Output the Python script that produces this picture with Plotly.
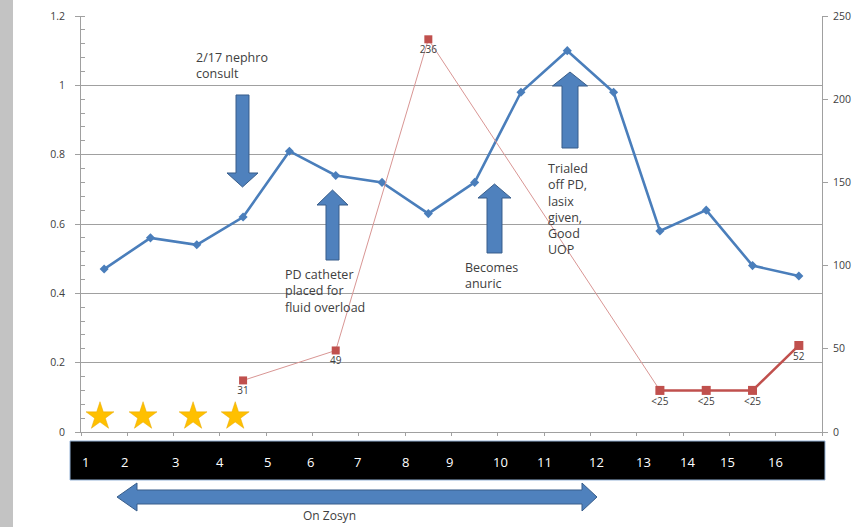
import plotly.graph_objects as go

# ---------------- data ----------------
days = list(range(1, 17))
creatinine = [0.47, 0.56, 0.54, 0.62, 0.81, 0.74, 0.72, 0.63, 0.72, 0.98, 1.10, 0.98, 0.58, 0.64, 0.48, 0.45]
vanc_days = [4, 6, 8, 13]
vanc_vals = [31, 49, 236, 25]
vanc_labels = ["31", "49", "236", ""]
vanc_days2 = [13, 14, 15, 16]
vanc_vals2 = [25, 25, 25, 52]
vanc_labels2 = ["<25", "<25", "<25", "52"]
star_days = [0.91, 1.84, 2.92, 3.83]
star_level = [0.045, 0.045, 0.045, 0.045]
day_labels = [str(d) for d in days]
day_label_pos = [0.59, 1.43, 2.55, 3.5, 4.52, 5.45, 6.48, 7.5, 8.45, 9.55, 10.5, 11.64, 12.64, 13.6, 14.47, 15.5]
left_ticks = [0, 0.2, 0.4, 0.6, 0.8, 1, 1.2]
left_ticktext = ["0", "0.2", "0.4", "0.6", "0.8", "1", "1.2"]
right_ticks = [0, 50, 100, 150, 200, 250]

# ---------------- layout geometry ----------------
WIDTH, HEIGHT = 855, 527
L, R, T, B = 81, 33, 16, 95
PW, PH = WIDTH - L - R, HEIGHT - T - B

def px(x):
    return (x - L) / PW

def py(y):
    return (T + PH - y) / PH

def path(points):
    s = "M " + " L ".join(f"{px(a):.5f},{py(b):.5f}" for a, b in points) + " Z"
    return s

BLUE = "#4A7EBB"
ARROW_FILL = "#4F81BD"
ARROW_LINE = "#385D8A"
RED = "#C0504D"
GRID = "#A0A0A0"
TXT = "#404040"
FONT = "Open Sans"

fig = go.Figure()

fig.add_trace(go.Scatter(
    x=days, y=creatinine, mode="lines+markers",
    line=dict(color=BLUE, width=2.6),
    marker=dict(symbol="diamond", size=7, color=BLUE),
    yaxis="y", hoverinfo="skip"))

fig.add_trace(go.Scatter(
    x=vanc_days, y=vanc_vals, mode="lines+markers+text",
    line=dict(color="#D99694", width=1),
    marker=dict(symbol="square", size=8, color=RED),
    text=vanc_labels, textposition="bottom center",
    textfont=dict(family=FONT, size=10, color=TXT),
    yaxis="y2", hoverinfo="skip"))

fig.add_trace(go.Scatter(
    x=vanc_days2, y=vanc_vals2, mode="lines+markers+text",
    line=dict(color=RED, width=2.5),
    marker=dict(symbol="square", size=9, color=RED),
    text=vanc_labels2, textposition="bottom center",
    textfont=dict(family=FONT, size=10, color=TXT),
    yaxis="y2", hoverinfo="skip"))

fig.add_trace(go.Scatter(
    x=star_days, y=star_level, mode="markers",
    marker=dict(symbol="star", size=21, color="#FFC000",
                line=dict(color="#E6A800", width=0.5)),
    yaxis="y", hoverinfo="skip"))

shapes = []
# left gray strip
shapes.append(dict(type="rect", xref="paper", yref="paper",
                   x0=px(0), x1=px(13), y0=py(527), y1=py(0),
                   fillcolor="#C3C3C3", line=dict(width=0), layer="below"))
# black day bar
shapes.append(dict(type="rect", xref="paper", yref="paper",
                   x0=px(70), x1=px(825), y0=py(480), y1=py(441),
                   fillcolor="black", line=dict(color="#95B3D7", width=1)))

def up_arrow(cx, half_shaft, half_head, tip, base, bottom):
    return path([(cx - half_shaft, bottom), (cx - half_shaft, base), (cx - half_head, base),
                 (cx, tip), (cx + half_head, base), (cx + half_shaft, base),
                 (cx + half_shaft, bottom)])

arrows = [
    path([(236, 95), (249, 95), (249, 173), (258, 173), (242.5, 187), (227, 173), (236, 173)]),
    up_arrow(332.5, 6.5, 15.5, 190, 205, 260),
    up_arrow(494.5, 7.5, 16.5, 184, 198, 253),
    up_arrow(570, 8, 17.5, 72, 86, 148),
    path([(117, 497), (137, 483), (137, 490), (582, 490), (582, 483), (597, 497),
          (582, 511), (582, 504), (137, 504), (137, 511)]),
]
for p in arrows:
    shapes.append(dict(type="path", xref="paper", yref="paper", path=p,
                       fillcolor=ARROW_FILL, line=dict(color=ARROW_LINE, width=1)))

annotations = []

def note(text, x, y, size=12.5):
    annotations.append(dict(text=text, xref="paper", yref="paper",
                            x=px(x), y=py(y), xanchor="left", yanchor="top",
                            showarrow=False, align="left",
                            font=dict(family=FONT, size=size, color=TXT)))

note("2/17 nephro<br>consult", 194, 47)
note("PD catheter<br>placed for<br>fluid overload", 283, 264)
note("Becomes<br>anuric", 463, 257)
note("Trialed<br>off PD,<br>lasix<br>given,<br>Good<br>UOP", 546, 158)
annotations.append(dict(text="On Zosyn", xref="paper", yref="paper",
                        x=px(329), y=py(526), xanchor="center", yanchor="bottom",
                        showarrow=False, font=dict(family=FONT, size=12, color=TXT)))

for lab, pos in zip(day_labels, day_label_pos):
    annotations.append(dict(text=lab, xref="x", yref="paper", x=pos, y=py(462),
                            xanchor="center", yanchor="middle", showarrow=False,
                            font=dict(family=FONT, size=13, color="white")))

fig.update_layout(
    width=WIDTH, height=HEIGHT,
    margin=dict(l=L, r=R, t=T, b=B, pad=0, autoexpand=False),
    paper_bgcolor="white", plot_bgcolor="white",
    showlegend=False,
    shapes=shapes, annotations=annotations,
    xaxis=dict(range=[0.5, 16.5], tickmode="array", automargin=False,
               tickvals=[i + 0.5 for i in range(17)], ticktext=[""] * 17,
               ticks="outside", ticklen=3, tickcolor=GRID,
               showgrid=False, zeroline=False, showline=True,
               linecolor=GRID, linewidth=1, fixedrange=True),
    yaxis=dict(range=[0, 1.2], tickmode="array", tickvals=left_ticks, automargin=False,
               ticktext=left_ticktext, ticks="outside", ticklen=5, tickcolor=GRID,
               ticklabelstandoff=8,
               showgrid=True, gridcolor=GRID, gridwidth=1, zeroline=False,
               showline=True, linecolor=GRID, linewidth=1,
               tickfont=dict(family=FONT, size=10.5, color=TXT),
               minor=dict(dtick=0.04, ticks="inside", ticklen=4, tickcolor=GRID,
                          showgrid=False)),
    yaxis2=dict(range=[0, 250], overlaying="y", side="right", tickmode="array",
                tickvals=right_ticks, ticks="outside", ticklen=5, tickcolor=GRID,
                ticklabelstandoff=3, automargin=False,
                showgrid=False, zeroline=False, showline=True,
                linecolor=GRID, linewidth=1,
                tickfont=dict(family=FONT, size=10.5, color=TXT)),
)

fig.write_html("out.html", config={"displayModeBar": False},
               post_script="document.body.style.margin='0';document.body.style.overflow='hidden';")
